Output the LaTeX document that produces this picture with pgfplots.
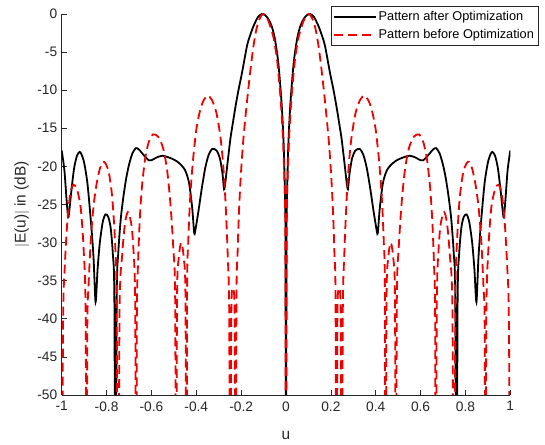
\documentclass[border=0pt]{standalone}
\usepackage{fontspec}
\setmainfont{Liberation Sans}
\usepackage{pgfplots}
\pgfplotsset{compat=1.18}
\definecolor{axgray}{rgb}{0.15,0.15,0.15}
\begin{document}
\begin{tikzpicture}
\path (-61.7bp,-50bp) rectangle (483.3bp,395bp);
\begin{axis}[
  scale only axis, width=448.6bp, height=381bp,
  xmin=-1, xmax=1, ymin=-50, ymax=0,
  xtick={-1,-0.8,-0.6,-0.4,-0.2,0,0.2,0.4,0.6,0.8,1},
  ytick={-50,-45,-40,-35,-30,-25,-20,-15,-10,-5,0},
  axis x line*=bottom, axis y line*=left,
  axis line style={axgray, line width=0.6bp, -},
  tick align=inside, major tick length=5bp,
  tick style={axgray, line width=0.6bp},
  /pgf/number format/assume math mode=true,
  tick label style={font=\fontsize{13.8}{16}\selectfont, text=axgray},
  xticklabel style={yshift=-3bp},
  yticklabel style={xshift=-1bp},
  xlabel={u}, ylabel={$|$E(u)$|$ in (dB)},
  label style={font=\fontsize{15.5}{18}\selectfont, text=axgray},
  xlabel style={at={(axis description cs:0.5,-0.106)}, anchor=center},
  ylabel style={at={(axis description cs:-0.089,0.5)}, anchor=center},
  legend style={at={(axis description cs:1.0622,1.021)}, anchor=north east,
    font=\fontsize{12.8}{15}\selectfont, draw=axgray, line width=0.6bp,
    inner xsep=2bp, inner ysep=3bp, row sep=3.5bp},
  legend cell align=left,
  legend image code/.code={\draw[#1] (0bp,0bp) -- (42bp,0bp);},
]
% after optimization
\addplot[black, line width=1.8bp, smooth, tension=0.45] coordinates {
(-1.0,-17.9)(-0.988,-20.5)(-0.978,-24.5)(-0.971,-26.7)(-0.966,-25.8)(-0.958,-23.5)
(-0.945,-20.3)(-0.932,-18.6)(-0.92,-18.1)(-0.912,-18.4)(-0.9,-19.5)(-0.885,-22.3)
(-0.869,-27.5)(-0.858,-32)(-0.849,-37.8)(-0.84,-33.5)(-0.83,-30)(-0.817,-27.3)
(-0.805,-26.3)(-0.793,-26.6)(-0.782,-28)(-0.772,-31.5)(-0.765,-38)(-0.760,-80)
(-0.755,-38)(-0.748,-31.5)(-0.737,-27)(-0.725,-24)(-0.712,-21.5)(-0.7,-19.8)
(-0.685,-18.3)(-0.669,-17.6)(-0.655,-17.8)(-0.635,-18.5)(-0.612,-19.2)(-0.6,-19.2)
(-0.575,-18.8)(-0.55,-18.6)(-0.525,-18.8)(-0.5,-19.1)(-0.475,-19.6)(-0.45,-20.5)
(-0.432,-22.2)(-0.418,-25.5)(-0.409,-28.8)(-0.402,-28)(-0.39,-25.8)(-0.375,-22.8)
(-0.36,-20.2)(-0.345,-18.5)(-0.329,-17.7)(-0.31,-17.9)(-0.295,-18.9)(-0.283,-21)
(-0.276,-23)(-0.27,-22)(-0.262,-19.9)(-0.248,-16.4)(-0.238,-14.5)(-0.226,-12.3)
(-0.212,-10)(-0.196,-7.7)(-0.174,-4.2)(-0.16,-2.8)(-0.145,-1.6)(-0.125,-0.4)
(-0.108,0)(-0.095,-0.1)(-0.08,-0.6)(-0.065,-1.5)(-0.05,-3.2)(-0.034,-6.5)
(-0.019,-12)(-0.01,-17.5)(-0.005,-23.5)(-0.002,-31)
(0,-80)
(0.002,-31)(0.005,-23.5)(0.01,-17.5)(0.019,-12)(0.034,-6.5)(0.05,-3.2)
(0.065,-1.5)(0.08,-0.6)(0.095,-0.1)(0.108,0)(0.125,-0.4)(0.145,-1.6)
(0.16,-2.8)(0.174,-4.2)(0.196,-7.7)(0.212,-10)(0.226,-12.3)(0.238,-14.5)
(0.248,-16.4)(0.262,-19.9)(0.27,-22)(0.276,-23)(0.283,-21)(0.295,-18.9)
(0.31,-17.9)(0.329,-17.7)(0.345,-18.5)(0.36,-20.2)(0.375,-22.8)(0.39,-25.8)
(0.402,-28)(0.409,-28.8)(0.418,-25.5)(0.432,-22.2)(0.45,-20.5)(0.475,-19.6)
(0.5,-19.1)(0.525,-18.8)(0.55,-18.6)(0.575,-18.8)(0.6,-19.2)(0.612,-19.2)
(0.635,-18.5)(0.655,-17.8)(0.669,-17.6)(0.685,-18.3)(0.7,-19.8)(0.712,-21.5)
(0.725,-24)(0.737,-27)(0.748,-31.5)(0.755,-38)(0.760,-80)(0.765,-38)
(0.772,-31.5)(0.782,-28)(0.793,-26.6)(0.805,-26.3)(0.817,-27.3)(0.83,-30)
(0.84,-33.5)(0.849,-37.8)(0.858,-32)(0.869,-27.5)(0.885,-22.3)(0.9,-19.5)
(0.912,-18.4)(0.92,-18.1)(0.932,-18.6)(0.945,-20.3)(0.958,-23.5)(0.966,-25.8)
(0.971,-26.7)(0.978,-24.5)(0.988,-20.5)(1.0,-17.9)
};
\addlegendentry{Pattern after Optimization}
% before optimization
\addplot[red!95!black, line width=1.8bp, dash pattern=on 9bp off 5bp, smooth, tension=0.45] coordinates {
(-1.0,-80)(-0.994,-41)(-0.986,-33)(-0.975,-27.3)(-0.962,-23.6)(-0.948,-22.4)
(-0.932,-23)(-0.915,-25.5)(-0.902,-31)(-0.893,-40)(-0.889,-80)(-0.886,-42)
(-0.88,-35.5)(-0.87,-29.5)(-0.858,-25.2)(-0.845,-22.4)(-0.83,-20.3)(-0.816,-19.4)
(-0.805,-19.6)(-0.79,-20.8)(-0.775,-24)(-0.763,-29.5)(-0.755,-38)(-0.749,-80)
(-0.742,-39)(-0.73,-31.5)(-0.718,-27.5)(-0.705,-26)(-0.69,-27.5)(-0.68,-31)
(-0.672,-39)(-0.668,-80)(-0.665,-40)(-0.66,-33)(-0.652,-27)(-0.642,-22.6)
(-0.628,-19)(-0.612,-16.8)(-0.593,-15.8)(-0.57,-16.1)(-0.548,-17.6)(-0.53,-20.5)
(-0.515,-25)(-0.502,-31)(-0.494,-38)(-0.49,-80)(-0.486,-38)(-0.478,-32)
(-0.467,-30)(-0.456,-32)(-0.448,-38)(-0.444,-80)(-0.441,-37)(-0.436,-30)
(-0.427,-24)(-0.415,-19.3)(-0.4,-15.2)(-0.385,-12.9)(-0.37,-11.5)(-0.35,-10.7)
(-0.33,-11.3)(-0.31,-13)(-0.292,-16.2)(-0.28,-19.8)(-0.27,-24.5)(-0.26,-31.5)
(-0.253,-40)(-0.249,-80)(-0.244,-40)(-0.237,-36.8)(-0.229,-40)(-0.225,-80)
(-0.221,-38)(-0.216,-31.5)(-0.209,-25.5)(-0.2,-20.5)(-0.19,-16.4)(-0.175,-11.8)
(-0.16,-7.7)(-0.145,-4.2)(-0.132,-2)(-0.12,-0.8)(-0.11,-0.2)(-0.1,0)
(-0.09,-0.3)(-0.08,-0.8)(-0.068,-1.8)(-0.055,-3.2)(-0.04,-6)(-0.025,-10.8)
(-0.015,-15.5)(-0.008,-21)(-0.003,-29)
(0,-80)
(0.003,-29)(0.008,-21)(0.015,-15.5)(0.025,-10.8)(0.04,-6)(0.055,-3.2)
(0.068,-1.8)(0.08,-0.8)(0.09,-0.3)(0.1,0)(0.11,-0.2)(0.12,-0.8)
(0.132,-2)(0.145,-4.2)(0.16,-7.7)(0.175,-11.8)(0.19,-16.4)(0.2,-20.5)
(0.209,-25.5)(0.216,-31.5)(0.221,-38)(0.225,-80)(0.229,-40)(0.237,-36.8)
(0.244,-40)(0.249,-80)(0.253,-40)(0.26,-31.5)(0.27,-24.5)(0.28,-19.8)
(0.292,-16.2)(0.31,-13)(0.33,-11.3)(0.35,-10.7)(0.37,-11.5)(0.385,-12.9)
(0.4,-15.2)(0.415,-19.3)(0.427,-24)(0.436,-30)(0.441,-37)(0.444,-80)
(0.448,-38)(0.456,-32)(0.467,-30)(0.478,-32)(0.486,-38)(0.49,-80)
(0.494,-38)(0.502,-31)(0.515,-25)(0.53,-20.5)(0.548,-17.6)(0.57,-16.1)
(0.593,-15.8)(0.612,-16.8)(0.628,-19)(0.642,-22.6)(0.652,-27)(0.66,-33)
(0.665,-40)(0.668,-80)(0.672,-39)(0.68,-31)(0.69,-27.5)(0.705,-26)
(0.718,-27.5)(0.73,-31.5)(0.742,-39)(0.749,-80)(0.755,-38)(0.763,-29.5)
(0.775,-24)(0.79,-20.8)(0.805,-19.6)(0.816,-19.4)(0.83,-20.3)(0.845,-22.4)
(0.858,-25.2)(0.87,-29.5)(0.88,-35.5)(0.886,-42)(0.889,-80)(0.893,-40)
(0.902,-31)(0.915,-25.5)(0.932,-23)(0.948,-22.4)(0.962,-23.6)(0.975,-27.3)
(0.986,-33)(0.994,-41)(1.0,-80)
};
\addlegendentry{Pattern before Optimization}
\end{axis}
\end{tikzpicture}
\end{document}
